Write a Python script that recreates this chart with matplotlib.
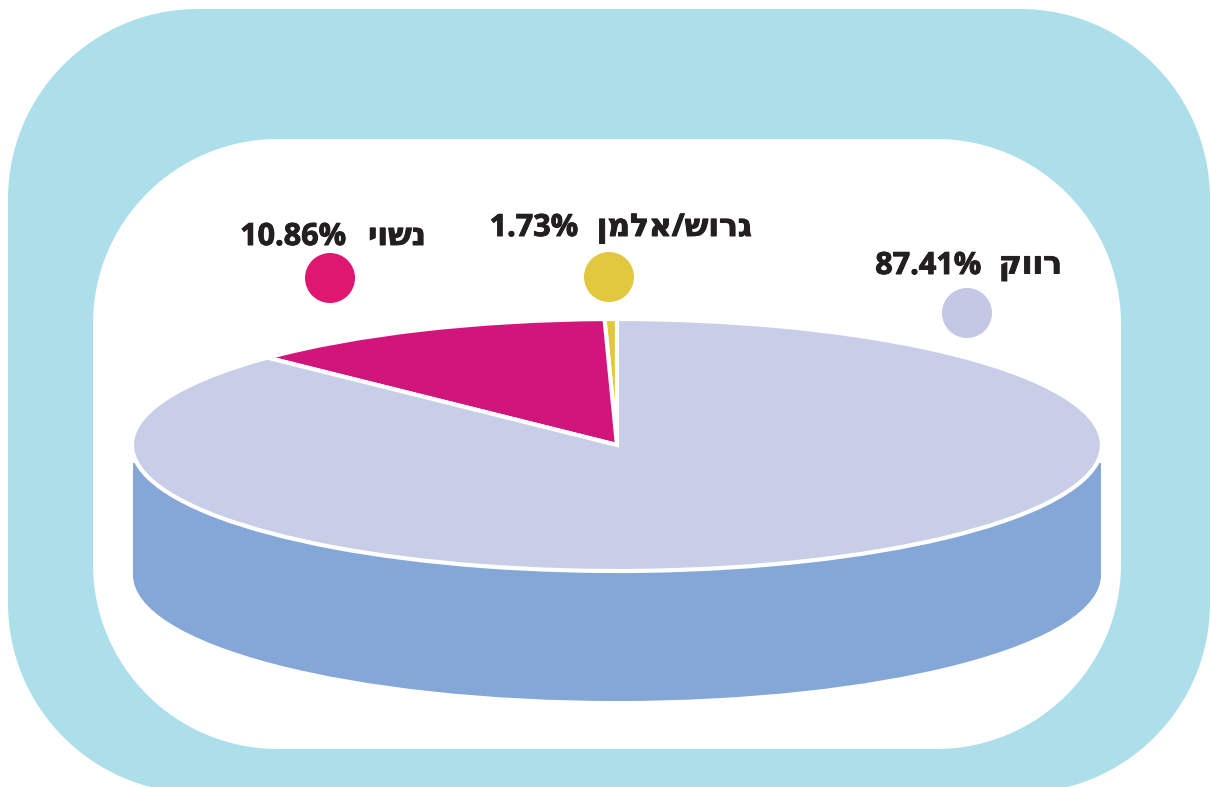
import matplotlib
matplotlib.use("Agg")
import matplotlib.pyplot as plt
import matplotlib.patheffects as pe
from matplotlib.patches import PathPatch, Ellipse, Rectangle, Circle
from matplotlib.path import Path

W, H = 1211, 787

# Data
categories = ["גרוש/אלמן", "נשוי", "רווק"]
percent_labels = ["1.73%", "10.86%", "87.41%"]
# slice sizes as actually drawn in the picture
drawn_shares = [0.41, 12.4, 87.19]
slice_colors = ["#E0C83A", "#D2157B", "#C8CEE8"]
dot_colors = ["#E2C83E", "#DF1770", "#C3C8E4"]

# Layout (pixels)
dot_centers = [(609, 277), (330, 278), (967, 313)]
pct_pos = [(578, 228), (346, 237), (981, 266)]
cat_pos = [(752, 228), (426, 237), (1062, 266)]
pie_box = (132, 319, 1102, 571)
depth = 130


def round_rect(x, y, w, h, r):
    k = 0.5523 * r
    verts = [(x + r, y), (x + w - r, y),
             (x + w - r + k, y), (x + w, y + r - k), (x + w, y + r),
             (x + w, y + h - r),
             (x + w, y + h - r + k), (x + w - r + k, y + h), (x + w - r, y + h),
             (x + r, y + h),
             (x + r - k, y + h), (x, y + h - r + k), (x, y + h - r),
             (x, y + r),
             (x, y + r - k), (x + r - k, y), (x + r, y),
             (x + r, y)]
    codes = [Path.MOVETO, Path.LINETO,
             Path.CURVE4, Path.CURVE4, Path.CURVE4,
             Path.LINETO,
             Path.CURVE4, Path.CURVE4, Path.CURVE4,
             Path.LINETO,
             Path.CURVE4, Path.CURVE4, Path.CURVE4,
             Path.LINETO,
             Path.CURVE4, Path.CURVE4, Path.CURVE4,
             Path.CLOSEPOLY]
    return Path(verts, codes)


fig = plt.figure(figsize=(W / 100, H / 100), dpi=100)
ax = fig.add_axes([0, 0, 1, 1])
ax.set_xlim(0, W)
ax.set_ylim(H, 0)
ax.axis("off")

ax.add_patch(PathPatch(round_rect(8, 9, 1202, 784, 190), fc="#ADDFEA", ec="none"))
ax.add_patch(PathPatch(round_rect(93, 139, 1028, 610, 185), fc="white", ec="none"))

# cylinder side
x0, y0, x1, y1 = pie_box
cx, cy = (x0 + x1) / 2, (y0 + y1) / 2
side = "#84A7D7"
ax.add_patch(Ellipse((cx, cy + depth), x1 - x0 - 2, y1 - y0, fc=side, ec="none"))
ax.add_patch(Rectangle((x0 + 1, cy + 18), x1 - x0 - 2, depth - 18, fc=side, ec="none"))

# pie top, through a stretched axes
pie_ax = fig.add_axes([x0 / W, 1 - y1 / H, (x1 - x0) / W, (y1 - y0) / H])
wedges, _ = pie_ax.pie(drawn_shares, colors=slice_colors, startangle=90, counterclock=True,
                       radius=1, wedgeprops=dict(edgecolor="white", linewidth=3))
pie_ax.set_aspect("auto")
pie_ax.set_xlim(-1, 1)
pie_ax.set_ylim(-1, 1)
pie_ax.patch.set_alpha(0)
for w in wedges:
    w.set_clip_on(False)

# labels
font = ["Open Sans", "DejaVu Sans"]
thick = [pe.withStroke(linewidth=0.7, foreground="#231F20")]
for name, pct, dc, dotc, pp, cp in zip(categories, percent_labels, dot_centers,
                                       dot_colors, pct_pos, cat_pos):
    ax.add_patch(Circle(dc, 25, fc=dotc, ec="none"))
    ax.text(pp[0], pp[1], pct, ha="right", va="center", family=font, fontweight="bold",
            fontsize=22, color="#231F20", path_effects=thick)
    # matplotlib has no bidi layout: Hebrew is reversed for left-to-right drawing
    ax.text(cp[0], cp[1], name[::-1], ha="right", va="center", family=font, fontweight="bold",
            fontsize=22.5, color="#231F20", path_effects=thick)

fig.savefig("out.png", dpi=100)
